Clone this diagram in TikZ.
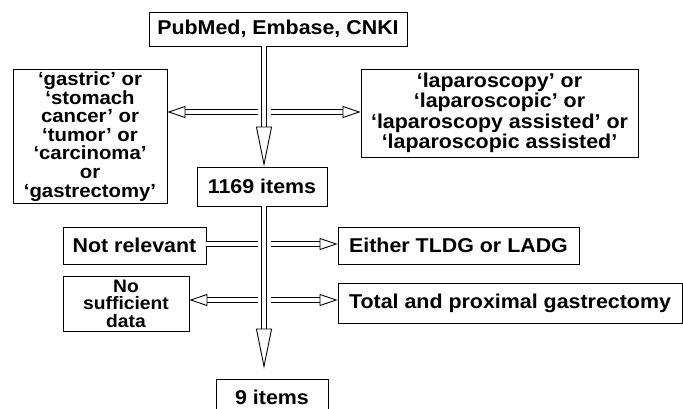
\documentclass[tikz,border=0pt]{standalone}
\usepackage{fontspec}
\setmainfont[FakeStretch=1.07]{Liberation Sans}
\usetikzlibrary{arrows.meta,positioning,calc}

\begin{document}
\begin{tikzpicture}[x=1pt,y=1pt,
  every node/.style={font=\bfseries\fontsize{20}{18}\selectfont},
  box/.style={draw, line width=0.9pt, align=center, inner sep=2pt},
  dline/.style={draw, double, double distance=3.6pt, line width=0.9pt},
  harrow/.style={dline, -{Triangle[open, length=18pt, width=12pt, line width=0.9pt]}},
  varrow/.style={draw, double, double distance=4.5pt, line width=0.9pt,
    -{Triangle[open, length=40pt, width=16pt, line width=0.9pt]}}
]
  \useasboundingbox (0,0) rectangle (683,-409);

  % sources and search terms
  \node[box, minimum width=258, minimum height=34] (src) at (278,-29) {PubMed, Embase, CNKI};
  \node[box, minimum width=154, minimum height=131,
    font=\bfseries\fontsize{19}{18.6}\selectfont] (kwL) at (90,-136.5)
    {‘gastric’ or\\‘stomach\\cancer’ or\\‘tumor’ or\\‘carcinoma’\\or\\‘gastrectomy’};
  \node[box, minimum width=277, minimum height=88,
    font=\bfseries\fontsize{20}{20.5}\selectfont] (kwR) at (499.5,-113)
    {‘laparoscopy’ or\\‘laparoscopic’ or\\‘laparoscopy assisted’ or\\‘laparoscopic assisted’};
  \node[box, minimum width=130, minimum height=39] (n1169) at (262,-186.5) {1169 items};

  % exclusions
  \node[box, minimum width=143, minimum height=37] (nrel) at (134.5,-245.5) {Not relevant};
  \node[box, minimum width=126, minimum height=55,
    font=\bfseries\fontsize{18}{17.6}\selectfont] (nodata) at (126,-303.5) {No\\sufficient\\data};
  \node[box, minimum width=241, minimum height=37] (either) at (458.5,-245.5) {Either TLDG or LADG};
  \node[box, minimum width=344, minimum height=40] (total) at (510,-303) {Total and proximal gastrectomy};
  \node[box, minimum width=112, minimum height=36] (n9) at (272,-397) {9 items};

  % junctions on the main shaft
  \coordinate (jA) at (264,-112);
  \coordinate (jB) at (264,-244);
  \coordinate (jC) at (264,-300);

  \draw[varrow] (src.south -| jA) -- (n1169.north -| jA);
  \draw[varrow, shorten >=10pt] (n1169.south -| jB) -- (n9.north -| jB);
  \draw[harrow] ([xshift=-6pt]jA) -- (jA -| kwL.east);
  \draw[harrow] ([xshift=7pt]jA) -- (jA -| kwR.west);
  \draw[dline] ([xshift=-6pt]jB) -- (jB -| nrel.east);
  \draw[harrow] ([xshift=7pt]jB) -- (jB -| either.west);
  \draw[harrow] ([xshift=-6pt]jC) -- (jC -| nodata.east);
  \draw[harrow] ([xshift=7pt]jC) -- (jC -| total.west);
\end{tikzpicture}
\end{document}
